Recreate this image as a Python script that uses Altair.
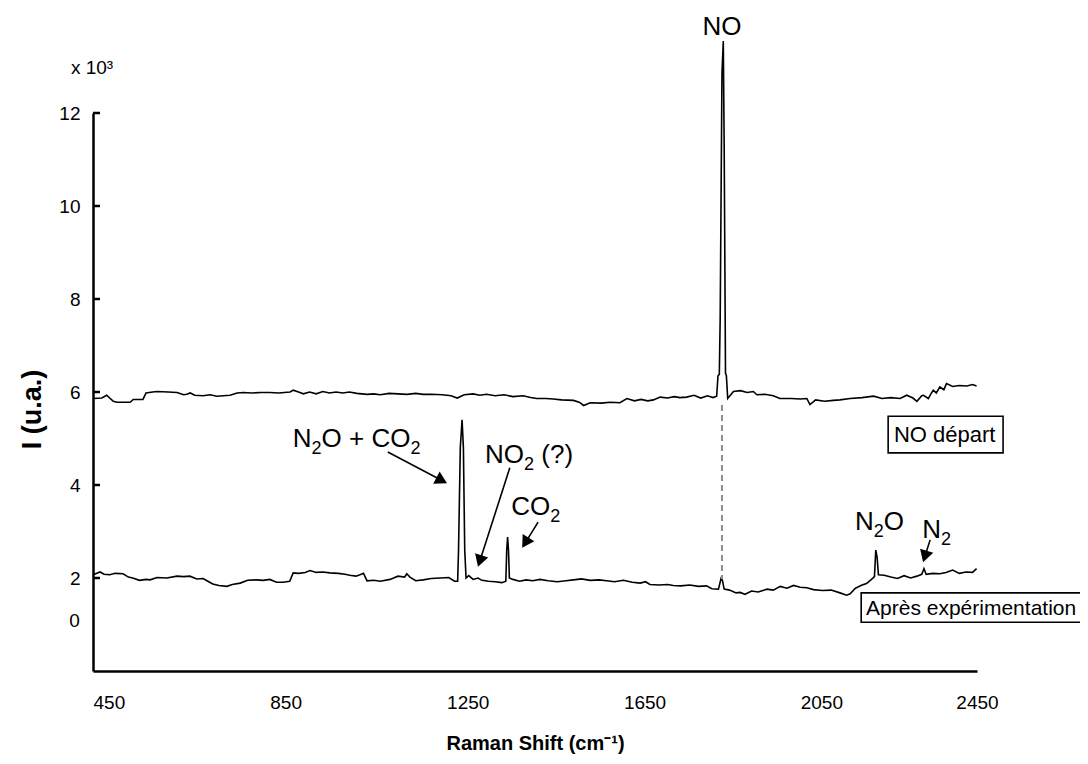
import math
import altair as alt
import pandas as pd

# ---------------- data ----------------
depart_x = [450, 470, 481, 490, 496, 504, 520, 534, 541, 563, 566, 570, 585, 595, 620, 640, 655, 662, 670, 680,
            699, 715, 730, 745, 760, 776, 790, 810, 830, 850, 870, 896, 903, 915, 926, 940, 955, 970, 985, 1000,
            1015, 1030, 1047, 1070, 1085, 1100, 1120, 1140, 1160, 1180, 1197, 1215, 1240, 1260, 1274, 1290, 1310,
            1325, 1340, 1360, 1380, 1400, 1423, 1440, 1454, 1475, 1491, 1510, 1537, 1550, 1560, 1575, 1600, 1620,
            1642, 1658, 1675, 1690, 1705, 1718, 1733, 1750, 1765, 1778, 1793, 1810, 1825, 1840, 1853, 1861, 1864,
            1867, 1869, 1873, 1876, 1878, 1881, 1883, 1886, 1899, 1915, 1930, 1944, 1952, 1970, 1989, 2004, 2030,
            2050, 2065, 2072, 2085, 2105, 2125, 2140, 2163, 2190, 2216, 2235, 2255, 2276, 2291, 2305, 2314, 2325,
            2329, 2340, 2345, 2351, 2358, 2366, 2375, 2381, 2395, 2410, 2427, 2440, 2449]
depart_y = [5.86, 5.87, 5.93, 5.85, 5.80, 5.78, 5.78, 5.78, 5.84, 5.84, 5.90, 5.98, 6.00, 6.01, 6.00, 5.99, 5.94,
            5.95, 5.98, 5.93, 5.92, 5.94, 5.91, 5.92, 5.93, 5.98, 5.99, 5.98, 5.99, 5.99, 5.98, 6.00, 6.04, 6.00,
            5.96, 6.00, 5.96, 6.01, 5.98, 6.00, 5.98, 6.00, 5.97, 5.95, 5.96, 5.94, 5.97, 5.96, 5.95, 5.97, 5.95,
            5.95, 5.94, 5.92, 5.87, 5.94, 5.96, 5.93, 5.95, 5.92, 5.94, 5.90, 5.92, 5.88, 5.86, 5.86, 5.85, 5.83,
            5.82, 5.78, 5.71, 5.77, 5.76, 5.78, 5.77, 5.86, 5.81, 5.84, 5.81, 5.83, 5.89, 5.87, 5.90, 5.88, 5.89,
            5.93, 5.87, 5.92, 5.88, 5.91, 6.35, 6.38, 7.60, 12.85, 13.55, 11.30, 6.40, 6.35, 5.86, 6.01, 6.03,
            5.99, 6.01, 5.94, 5.95, 5.92, 5.86, 5.86, 5.85, 5.86, 5.73, 5.83, 5.80, 5.82, 5.83, 5.86, 5.88, 5.91,
            5.86, 5.88, 5.86, 5.93, 5.87, 5.80, 5.92, 5.93, 5.86, 5.95, 6.04, 5.98, 6.11, 6.05, 6.18, 6.12, 6.14,
            6.13, 6.16, 6.13]

apres_x = [450, 466, 475, 488, 500, 518, 530, 540, 555, 570, 579, 595, 617, 640, 655, 669, 685, 699, 712, 721,
           735, 753, 765, 783, 800, 820, 835, 850, 865, 880, 895, 903, 915, 930, 941, 955, 970, 986, 1005, 1020,
           1031, 1045, 1054, 1062, 1070, 1085, 1100, 1122, 1140, 1155, 1160, 1167, 1180, 1197, 1215, 1235, 1255,
           1268, 1275, 1277, 1281, 1285, 1288, 1291, 1294, 1300, 1310, 1321, 1330, 1345, 1360, 1375, 1384, 1386,
           1388, 1390, 1392, 1400, 1415, 1430, 1445, 1461, 1480, 1500, 1520, 1537, 1555, 1575, 1595, 1612, 1630,
           1650, 1670, 1688, 1700, 1710, 1730, 1750, 1763, 1780, 1800, 1820, 1838, 1850, 1865, 1871, 1874, 1878,
           1890, 1905, 1914, 1925, 1940, 1955, 1975, 1989, 2005, 2020, 2035, 2050, 2065, 2080, 2100, 2120, 2140,
           2155, 2163, 2175, 2190, 2200, 2210, 2218, 2221, 2224, 2227, 2240, 2255, 2270, 2285, 2300, 2314, 2325,
           2330, 2335, 2350, 2366, 2380, 2395, 2410, 2425, 2440, 2449]
apres_y = [2.07, 2.13, 2.08, 2.07, 2.10, 2.09, 2.02, 2.00, 1.95, 1.97, 1.96, 2.01, 2.00, 2.04, 2.03, 2.04, 1.98,
           1.99, 1.92, 1.87, 1.84, 1.82, 1.86, 1.89, 1.95, 1.96, 1.95, 1.97, 1.91, 1.91, 1.93, 2.11, 2.10, 2.12,
           2.16, 2.12, 2.13, 2.11, 2.10, 2.08, 2.06, 2.04, 2.07, 2.10, 1.94, 1.95, 1.93, 1.97, 2.04, 2.02, 2.09,
           2.02, 1.94, 1.96, 1.99, 2.00, 2.01, 1.93, 1.93, 2.60, 4.80, 5.40, 4.80, 2.60, 2.00, 2.05, 1.97, 2.00,
           1.95, 1.93, 1.92, 1.90, 1.93, 2.60, 2.88, 2.60, 2.00, 1.97, 1.93, 1.96, 1.94, 1.97, 1.94, 1.92, 1.94,
           1.96, 1.98, 1.95, 1.96, 1.94, 1.92, 1.95, 1.91, 1.89, 1.92, 1.86, 1.85, 1.86, 1.84, 1.83, 1.85, 1.82,
           1.83, 1.77, 1.76, 1.99, 1.95, 1.76, 1.74, 1.68, 1.69, 1.65, 1.72, 1.70, 1.76, 1.74, 1.82, 1.78, 1.84,
           1.80, 1.79, 1.75, 1.73, 1.74, 1.68, 1.63, 1.66, 1.78, 1.85, 1.88, 1.96, 2.03, 2.60, 2.45, 2.07, 2.06,
           2.02, 1.99, 2.05, 2.00, 2.04, 2.08, 2.20, 2.08, 2.10, 2.09, 2.12, 2.17, 2.10, 2.13, 2.12, 2.20]

series_names = ["NO départ", "Après expérimentation"]

y_ticks = [2, 4, 6, 8, 10, 12]
x_ticks = [450, 850, 1250, 1650, 2050, 2450]

# annotation labels: "_" marks the next character as a subscript
label_text = ["NO", "x 10³", "0", "N_2O + CO_2", "NO_2 (?)", "CO_2", "N_2O", "N_2"]
label_left = [1829, 400, 396, 902, 1337, 1396, 2174, 2326]
label_base = [13.68, 12.84, 0.95, 4.82, 4.47, 3.35, 3.03, 2.86]
label_size = [26, 19, 19, 26, 26, 26, 26, 26]

arrow_x1 = [1117, 1393, 1457, 2344]
arrow_y1 = [4.71, 4.37, 3.20, 2.82]
arrow_x2 = [1251, 1321, 1421, 2328]
arrow_y2 = [4.04, 2.24, 2.65, 2.34]

box_text = ["NO départ", "Après expérimentation"]
box_x1 = [2249, 2188]
box_x2 = [2509, 2720]
box_y1 = [5.48, 1.68]
box_y2 = [4.69, 1.05]
box_tx = [2262, 2199]
box_ty = [4.92, 1.20]
box_fs = [22, 21]

ref_x = [1873]
ref_y1 = [5.72]
ref_y2 = [1.98]

# ---------------- layout ----------------
W, H = 884, 558
XDOM = [450, 2450]
YDOM = [0, 12]
FONT = "Liberation Sans"
px_x = W / (XDOM[1] - XDOM[0])
px_y = H / (YDOM[1] - YDOM[0])

# Arial / Liberation Sans advance widths (em)
CW = {'N': 0.722, 'O': 0.778, ' ': 0.278, '+': 0.584, 'C': 0.722, '2': 0.556,
      '(': 0.333, '?': 0.556, ')': 0.333, 'x': 0.5, '1': 0.556, '0': 0.556, '³': 0.333}

xs = alt.Scale(domain=XDOM, nice=False, zero=False)
ys = alt.Scale(domain=YDOM, nice=False, zero=False)

rows = []
for name, xx, yy in [(series_names[0], depart_x, depart_y), (series_names[1], apres_x, apres_y)]:
    for a, b in zip(xx, yy):
        rows.append({"series": name, "x": a, "y": b})
df = pd.DataFrame(rows)

# text segments (normal + subscript pieces)
seg_rows = []


def flush(buf, start, lx, by, fs):
    # strip leading spaces by advancing the start position (SVG would collapse them)
    while buf.startswith(" "):
        start += CW[" "] * fs
        buf = buf[1:]
    if buf:
        seg_rows.append({"t": buf, "x": lx + start / px_x, "y": by, "s": fs})


for txt, lx, by, fs in zip(label_text, label_left, label_base, label_size):
    cur_px = 0.0
    buf = ""
    buf_start = 0.0
    i = 0
    sub_fs = round(fs * 0.7)
    while i < len(txt):
        ch = txt[i]
        if ch == "_":
            flush(buf, buf_start, lx, by, fs)
            buf = ""
            sc = txt[i + 1]
            seg_rows.append({"t": sc, "x": lx + cur_px / px_x, "y": by - 7 / px_y, "s": sub_fs})
            cur_px += CW.get(sc, 0.556) * sub_fs
            i += 2
            continue
        if not buf:
            buf_start = cur_px
        buf += ch
        cur_px += CW.get(ch, 0.556) * fs
        i += 1
    flush(buf, buf_start, lx, by, fs)
seg_df = pd.DataFrame(seg_rows)

# arrows
arr_rows = []
for x1, y1, x2, y2 in zip(arrow_x1, arrow_y1, arrow_x2, arrow_y2):
    dx = (x2 - x1) * px_x
    dy = -(y2 - y1) * px_y
    L = math.hypot(dx, dy)
    ux, uy = dx / L, dy / L
    ang = math.degrees(math.atan2(dx, -dy)) % 360
    hx = x2 - ux * 6 / px_x
    hy = y2 + uy * 6 / px_y
    lx = x2 - ux * 9 / px_x
    ly = y2 + uy * 9 / px_y
    arr_rows.append({"x1": x1, "y1": y1, "lx": lx, "ly": ly, "hx": hx, "hy": hy, "ang": ang})
arr_df = pd.DataFrame(arr_rows)

box_df = pd.DataFrame({"t": box_text, "x1": box_x1, "x2": box_x2, "y1": box_y1, "y2": box_y2,
                       "tx": box_tx, "ty": box_ty, "fs": box_fs})
ref_df = pd.DataFrame({"x": ref_x, "y1": ref_y1, "y2": ref_y2})
tick_df = pd.DataFrame({"v": y_ticks})

x_axis = alt.Axis(
    values=x_ticks, format="d", title="Raman Shift (cm⁻¹)", grid=False, ticks=False,
    domainColor="black", domainWidth=2.5,
    labelFont=FONT, labelFontSize=19, labelColor="black",
    labelPadding=22, labelBaseline="top", labelFlush=False, labelOverlap=False,
    labelAlign={"condition": {"test": "datum.value == 2450", "value": "center"}, "value": "left"},
    titleFont=FONT, titleFontSize=20, titleFontWeight="bold", titleColor="black", titlePadding=21,
)
y_axis = alt.Axis(
    values=y_ticks, format="d", title="I (u.a.)", grid=False, ticks=False,
    domainColor="black", domainWidth=2.5,
    labelFont=FONT, labelFontSize=19, labelColor="black",
    labelPadding=13, labelFlush=False, labelOverlap=False,
    titleFont=FONT, titleFontSize=27, titleFontWeight="bold", titleColor="black", titlePadding=12,
    titleY=296,
)


def X(field):
    return alt.X(field, type="quantitative", scale=xs, axis=x_axis)


def Y(field):
    return alt.Y(field, type="quantitative", scale=ys, axis=y_axis)


traces = alt.Chart(df).mark_line(strokeWidth=1.6, color="black").encode(
    x=X("x"), y=Y("y"), detail="series:N", order="x:Q",
)

ref_line = alt.Chart(ref_df).mark_rule(color="#8c8c8c", strokeWidth=2, strokeDash=[6, 4]).encode(
    x=X("x"), y=Y("y1"), y2="y2:Q"
)

boxes = alt.Chart(box_df).mark_rect(fill="white", stroke="black", strokeWidth=1.6).encode(
    x=X("x1"), x2="x2:Q", y=Y("y1"), y2="y2:Q",
)
box_txt = alt.Chart(box_df).mark_text(font=FONT, color="black", align="left",
                                      baseline="alphabetic").encode(
    x=X("tx"), y=Y("ty"), text="t:N", size=alt.Size("fs:Q", scale=None, legend=None)
)

labels = alt.Chart(seg_df).mark_text(font=FONT, color="black", align="left", baseline="alphabetic").encode(
    x=X("x"), y=Y("y"), text="t:N", size=alt.Size("s:Q", scale=None, legend=None)
)

arrow_lines = alt.Chart(arr_df).mark_rule(color="black", strokeWidth=1.6).encode(
    x=X("x1"), y=Y("y1"), x2="lx:Q", y2="ly:Q"
)
arrow_heads = alt.Chart(arr_df).mark_point(shape="triangle-up", filled=True, color="black", size=190,
                                           opacity=1, strokeWidth=0).encode(
    x=X("hx"), y=Y("hy"), angle=alt.Angle("ang:Q", scale=None)
)

yticks = alt.Chart(tick_df).mark_rule(color="black", strokeWidth=2.5).encode(
    y=Y("v"), x=alt.value(0), x2=alt.value(7)
)

chart = alt.layer(
    traces, ref_line, boxes, box_txt, labels, arrow_lines, arrow_heads, yticks
).properties(
    width=W, height=H, autosize="none",
    padding={"left": 85, "top": 105, "right": 103, "bottom": 85},
    background="white",
).configure_view(
    stroke=None
)

chart.save("out.html", embed_options={"renderer": "svg", "actions": False})
